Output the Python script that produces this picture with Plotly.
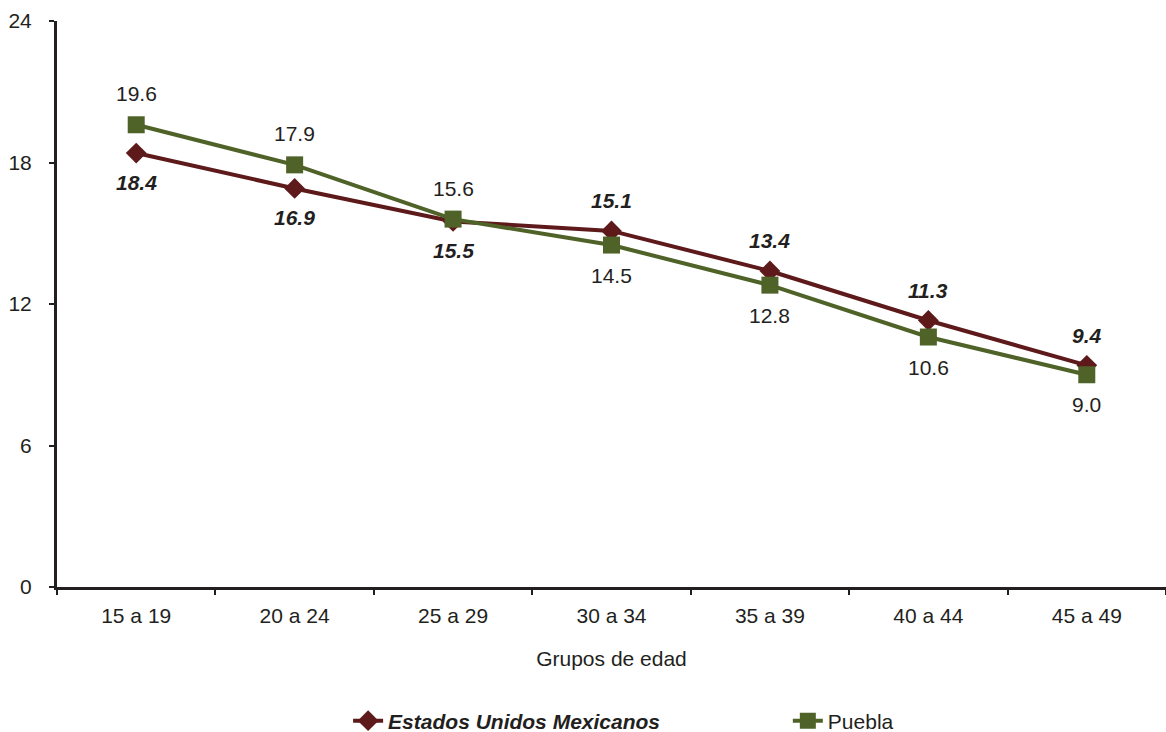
import plotly.graph_objects as go

categorias = ["15 a 19", "20 a 24", "25 a 29", "30 a 34", "35 a 39", "40 a 44", "45 a 49"]
eum = [18.4, 16.9, 15.5, 15.1, 13.4, 11.3, 9.4]
puebla = [19.6, 17.9, 15.6, 14.5, 12.8, 10.6, 9.0]
# label placement: -1 below, +1 above
eum_pos = [-1, -1, -1, 1, 1, 1, 1]
puebla_pos = [1, 1, 1, -1, -1, -1, -1]
yticks = [0, 6, 12, 18, 24]

C_EUM = "#5e1a1b"
C_PUE = "#4f6228"
TXT = "#231f20"
FONT = "Liberation Sans, Arial, sans-serif"
FS = 21

fig = go.Figure()
fig.add_trace(go.Scatter(
    x=categorias, y=eum, mode="lines+markers",
    name="<b><i>Estados Unidos Mexicanos</i></b>",
    line=dict(color=C_EUM, width=4),
    marker=dict(symbol="diamond", size=16, color=C_EUM),
    legend="legend",
))
fig.add_trace(go.Scatter(
    x=categorias, y=puebla, mode="lines+markers",
    name="Puebla",
    line=dict(color=C_PUE, width=4),
    marker=dict(symbol="square", size=17, color=C_PUE),
    legend="legend2",
))

for c, v, p in zip(categorias, eum, eum_pos):
    fig.add_annotation(x=c, y=v, text=f"<b><i>{v:.1f}</i></b>", showarrow=False,
                       yshift=(30 if p > 0 else 29) * p,
                       font=dict(size=FS, color=TXT, family=FONT))
for c, v, p in zip(categorias, puebla, puebla_pos):
    fig.add_annotation(x=c, y=v, text=f"{v:.1f}", showarrow=False,
                       yshift=(31 if p > 0 else 30) * p,
                       font=dict(size=FS, color=TXT, family=FONT))

leg_common = dict(orientation="h", xanchor="left", xref="paper",
                  yref="container", y=0.015, yanchor="middle", font=dict(size=FS),
                  bgcolor="rgba(0,0,0,0)")

fig.update_layout(
    width=1166, height=732,
    margin=dict(l=57, r=0, t=21, b=145),
    paper_bgcolor="white", plot_bgcolor="white",
    font=dict(family=FONT, size=FS, color=TXT),
    showlegend=True,
    legend=dict(x=0.2625, **leg_common),
    legend2=dict(x=0.659, **leg_common),
    xaxis=dict(
        type="category", range=[-0.5, 6.5], automargin=False,
        showline=True, linecolor=TXT, linewidth=3,
        ticks="outside", tickson="boundaries", ticklen=5, tickwidth=2, tickcolor=TXT,
        showgrid=False, zeroline=False, ticklabelstandoff=8,
        title=dict(text="Grupos de edad", standoff=26, font=dict(size=FS)),
        tickfont=dict(size=FS),
    ),
    yaxis=dict(
        range=[0, 24], tickvals=yticks, automargin=False,
        showline=True, linecolor=TXT, linewidth=3,
        ticks="outside", ticklen=5, tickwidth=2, tickcolor=TXT,
        showgrid=False, zeroline=False, tickfont=dict(size=FS),
        ticklabelstandoff=13,
    ),
)

fig.write_html("out.html", config={"displayModeBar": False},
               post_script="document.body.style.margin='0';")
